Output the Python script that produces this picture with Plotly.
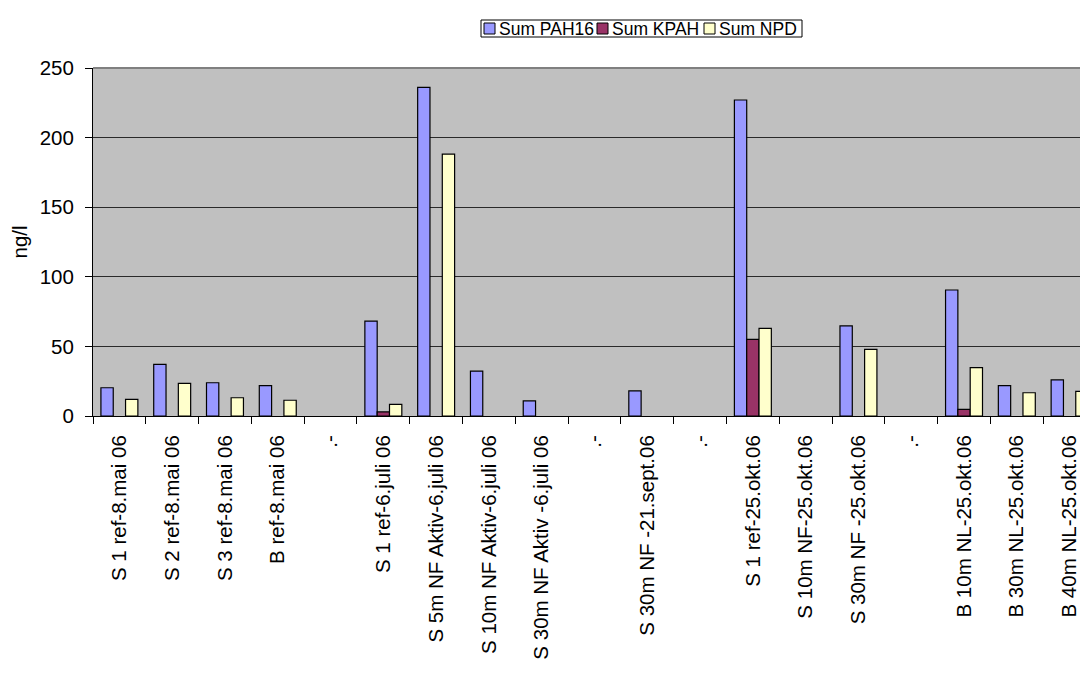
import plotly.graph_objects as go

categories = [
    "S 1 ref-8.mai 06", "S 2 ref-8.mai 06", "S 3 ref-8.mai 06", "B ref-8.mai 06",
    ".-",
    "S 1 ref-6.juli 06", "S 5m NF Aktiv-6.juli 06", "S 10m NF Aktiv-6.juli 06",
    "S 30m NF Aktiv -6.juli 06",
    ".-\u200b",
    "S 30m NF -21.sept.06",
    ".-\u200b\u200b",
    "S 1 ref-25.okt.06", "S 10m NF-25.okt.06", "S 30m NF -25.okt.06",
    ".-\u200b\u200b\u200b",
    "B 10m NL-25.okt.06", "B 30m NL-25.okt.06", "B 40m NL-25.okt.06",
]

series_names = ["Sum PAH16", "Sum KPAH", "Sum NPD"]
sum_pah16 = [20.3, 37.1, 23.9, 21.8, None, 68.2, 236.1, 32.3, 10.8, None, 18.0, None,
             227.0, None, 64.7, None, 90.5, 21.8, 25.9]
sum_kpah = [None, None, None, None, None, 2.9, None, None, None, None, None, None,
            55.1, None, None, None, 4.8, None, None]
sum_npd = [12.0, 23.5, 13.1, 11.3, None, 8.4, 188.2, None, None, None, None, None,
           63.0, None, 47.9, None, 34.7, 16.7, 17.7]
colors = ["#9999FF", "#993366", "#FFFFCC"]

FONT = "Arial, Liberation Sans, sans-serif"
TICK = 20.5

fig = go.Figure()
for name, vals, col in zip(series_names, [sum_pah16, sum_kpah, sum_npd], colors):
    fig.add_trace(go.Bar(x=categories, y=vals, name=name,
                         marker=dict(color=col, line=dict(color="black", width=1.2))))

# plot area in page px: left 93, right 1096, top 68, bottom 416 (page has 8px body offset)
fig.update_layout(
    width=1088, height=673,
    margin=dict(l=85, r=0, t=60, b=265),
    paper_bgcolor="white", plot_bgcolor="#C0C0C0",
    barmode="group", bargap=0.3, bargroupgap=0,
    font=dict(family=FONT, size=TICK, color="black"),
    showlegend=False,
    xaxis=dict(type="category", range=[-0.5, 18.5], tickangle=-90,
               tickson="boundaries", ticks="outside", ticklen=7, tickcolor="black",
               ticklabelstandoff=10,
               showline=True, linecolor="black", linewidth=1, showgrid=False,
               tickfont=dict(family=FONT, size=TICK, color="black")),
    yaxis=dict(range=[0, 250], dtick=50, ticks="outside", ticklen=7, tickcolor="black",
               ticklabelstandoff=7,
               showline=True, linecolor="black", linewidth=1,
               showgrid=True, gridcolor="#2a2a2a", gridwidth=1, zeroline=False,
               tickfont=dict(family=FONT, size=TICK, color="black"),
               title=dict(text="ng/l", font=dict(family=FONT, size=TICK, color="black"), standoff=14)),
)
fig.add_shape(type="line", xref="paper", yref="paper", x0=0, x1=1, y0=1, y1=1,
              line=dict(color="#808080", width=2))

# custom legend (page px -> paper coords)
PL, PR, PT, PB = 93.0, 1096.0, 68.0, 416.0
def px(x):
    return (x - PL) / (PR - PL)
def py(y):
    return (PB - y) / (PB - PT)

fig.add_shape(type="rect", xref="paper", yref="paper",
              x0=px(481), x1=px(802), y0=py(37), y1=py(20),
              line=dict(color="black", width=1), fillcolor="white", layer="above")
item_x = [484, 597, 704]
for name, col, x0 in zip(series_names, colors, item_x):
    fig.add_shape(type="rect", xref="paper", yref="paper",
                  x0=px(x0), x1=px(x0 + 11), y0=py(34), y1=py(23),
                  line=dict(color="black", width=1), fillcolor=col, layer="above")
    fig.add_annotation(text=name, xref="paper", yref="paper", x=px(x0 + 13), y=py(28.5),
                       xanchor="left", yanchor="middle", showarrow=False,
                       font=dict(family=FONT, size=17.5, color="black"))

fig.write_html("out.html")
